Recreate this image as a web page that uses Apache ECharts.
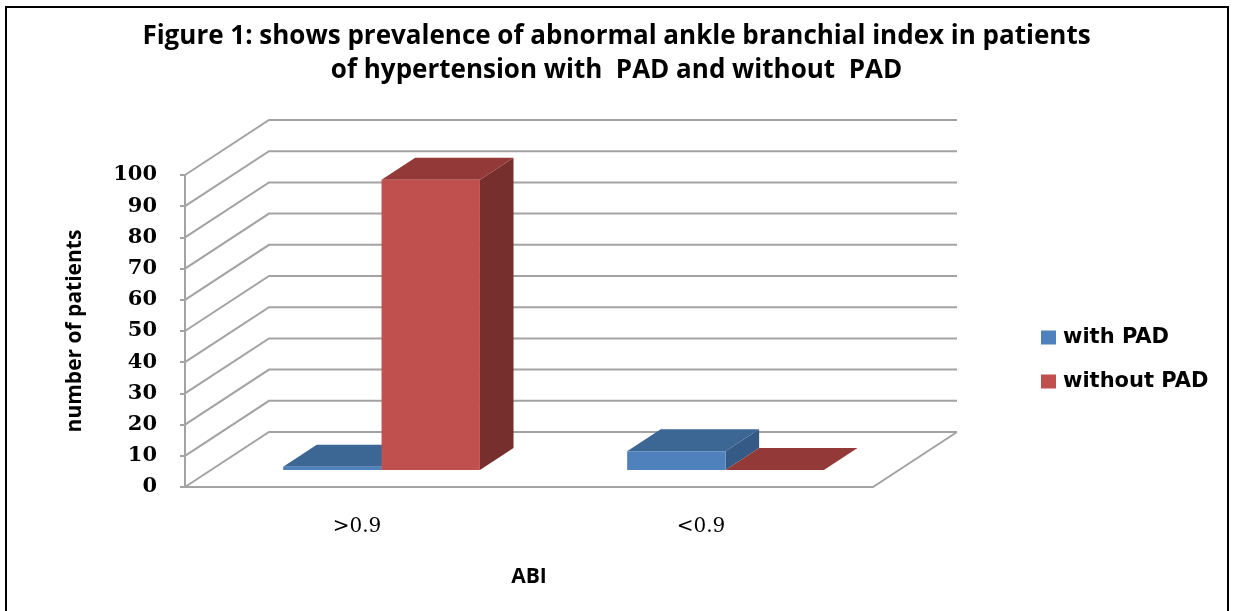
<!DOCTYPE html>
<html>
<head>
<meta charset="utf-8">
<script src="https://cdn.jsdelivr.net/npm/echarts@6/dist/echarts.min.js"></script>
<style>html,body{margin:0;padding:0;background:#fff;}#c{width:1233px;height:611px;}</style>
</head>
<body>
<div id="c"></div>
<script>
const categories = ['>0.9', '<0.9'];
const withPAD = [1, 6];
const withoutPAD = [93, 0];
const yTicks = [0, 10, 20, 30, 40, 50, 60, 70, 80, 90, 100];
const titleText = 'Figure 1: shows prevalence of abnormal ankle branchial index in patients\nof hypertension with  PAD and without  PAD';

const DX = 84, DY = -55;      // depth projection of the floor
const F1 = 0.31, F2 = 0.71;   // bar depth range
const BAR_FRAC = 0.286;

const faceColors = [
  { front: '#4F81BD', top: '#3C6694', side: '#355A86' },
  { front: '#C0504D', top: '#933A38', side: '#772F2D' }
];

function barRender(si) {
  return function (params, api) {
    const cat = api.value(0), v = api.value(1);
    const base = api.coord([cat, 0]);
    const topY = api.coord([cat, v])[1];
    const band = api.size([1, 0])[0];
    const bw = band * BAR_FRAC;
    const cx = base[0];
    const xl = si === 0 ? cx - bw - 1.5 : cx - 1.5;
    const xr = xl + bw;
    const by = base[1];
    const ox1 = F1 * DX, oy1 = F1 * DY, ox2 = F2 * DX, oy2 = F2 * DY;
    const c = faceColors[si];
    return {
      type: 'group',
      children: [
        { type: 'polygon', shape: { points: [[xr + ox1, by + oy1], [xr + ox2, by + oy2], [xr + ox2, topY + oy2], [xr + ox1, topY + oy1]] }, style: { fill: c.side } },
        { type: 'polygon', shape: { points: [[xl + ox1, topY + oy1], [xr + ox1, topY + oy1], [xr + ox2, topY + oy2], [xl + ox2, topY + oy2]] }, style: { fill: c.top } },
        { type: 'polygon', shape: { points: [[xl + ox1, by + oy1], [xr + ox1, by + oy1], [xr + ox1, topY + oy1], [xl + ox1, topY + oy1]] }, style: { fill: c.front } }
      ]
    };
  };
}

function gridRender(params, api) {
  const v = api.value(1);
  const cs = params.coordSys;
  const x0 = cs.x, w = cs.width;
  const y = api.coord([0, v])[1];
  const children = [{
    type: 'polyline',
    shape: { points: [[x0, y], [x0 + DX, y + DY], [x0 + w + DX, y + DY]] },
    style: { stroke: '#A3A3A3', lineWidth: 2, fill: null }
  }];
  if (v === 0) {
    children.push({
      type: 'polyline',
      shape: { points: [[x0 - 5, y], [x0 + w, y], [x0 + w + DX, y + DY]] },
      style: { stroke: '#A3A3A3', lineWidth: 2, fill: null }
    });
  }
  return { type: 'group', children: children };
}

const chart = echarts.init(document.getElementById('c'), null, { renderer: 'canvas' });
chart.setOption({
  backgroundColor: '#fff',
  animation: false,
  title: {
    text: titleText,
    left: 'center',
    top: 15,
    textStyle: { fontFamily: 'Open Sans', fontWeight: 'bold', fontSize: 26, lineHeight: 34, color: '#000' }
  },
  legend: {
    orient: 'vertical',
    left: 1036,
    top: 322,
    itemWidth: 15,
    itemHeight: 14,
    itemGap: 23,
    icon: 'rect',
    data: ['with PAD', 'without PAD'],
    textStyle: { fontFamily: 'DejaVu Sans', fontWeight: 'bold', fontSize: 21, color: '#000', padding: [0, 0, 0, 2] }
  },
  grid: { left: 185, top: 175, right: 360, bottom: 124 },
  xAxis: {
    type: 'category',
    data: categories,
    name: 'ABI',
    nameLocation: 'middle',
    nameGap: 80,
    nameTextStyle: { fontFamily: 'Open Sans', fontWeight: 'bold', fontSize: 21, color: '#000' },
    axisLine: { show: false },
    axisTick: { show: false },
    axisLabel: { margin: 30, fontFamily: 'DejaVu Serif', fontSize: 20, color: '#000' },
    splitLine: { show: false }
  },
  yAxis: {
    type: 'value',
    min: 0, max: 100, interval: 10,
    name: 'number of patients',
    nameLocation: 'middle',
    nameGap: 99,
    nameRotate: 90,
    nameTextStyle: { fontFamily: 'Open Sans', fontWeight: 'bold', fontSize: 21, color: '#000' },
    axisLine: { show: true, lineStyle: { color: '#A3A3A3', width: 2 } },
    axisTick: { show: true, length: 5, lineStyle: { color: '#A3A3A3', width: 2 } },
    axisLabel: { margin: 28, fontFamily: 'DejaVu Serif', fontWeight: 'bold', fontSize: 21, color: '#000' },
    splitLine: { show: false }
  },
  graphic: [{
    type: 'rect',
    shape: { x: 6, y: 7, width: 1222, height: 620 },
    style: { fill: null, stroke: '#000', lineWidth: 2 },
    silent: true
  }],
  series: [
    {
      type: 'custom', name: 'grid', z: 1, silent: true,
      renderItem: gridRender,
      data: yTicks.map(t => [0, t]),
      encode: { x: 0, y: 1 }
    },
    {
      type: 'custom', name: 'with PAD', z: 3,
      itemStyle: { color: '#4F81BD' },
      renderItem: barRender(0),
      data: withPAD.map((v, i) => [i, v]),
      encode: { x: 0, y: 1 }
    },
    {
      type: 'custom', name: 'without PAD', z: 3,
      itemStyle: { color: '#C0504D' },
      renderItem: barRender(1),
      data: withoutPAD.map((v, i) => [i, v]),
      encode: { x: 0, y: 1 }
    }
  ]
});
</script>
</body>
</html>
